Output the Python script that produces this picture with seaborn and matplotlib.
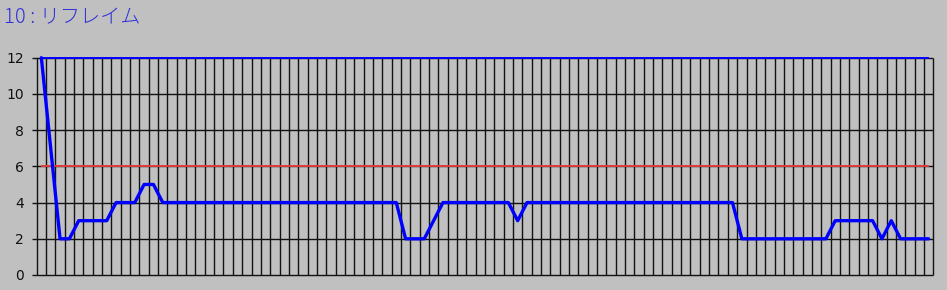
import numpy as np
import matplotlib
matplotlib.use("Agg")
import matplotlib.pyplot as plt
import seaborn as sns

title = "10 : リフレイム"
values = [12, 7, 2, 2, 3, 3, 3, 3, 4, 4, 4, 5, 5,
          4, 4, 4, 4, 4, 4, 4, 4, 4, 4, 4, 4, 4, 4, 4, 4, 4, 4, 4, 4, 4, 4, 4, 4, 4, 4,
          2, 2, 2, 3,
          4, 4, 4, 4, 4, 4, 4, 4,
          3,
          4, 4, 4, 4, 4, 4, 4, 4, 4, 4, 4, 4, 4, 4, 4, 4, 4, 4, 4, 4, 4, 4, 4,
          2, 2, 2, 2, 2, 2, 2, 2, 2, 2,
          3, 3, 3, 3, 3,
          2, 3, 2, 2, 2, 2]
upper_limit = 12
warn_level = 6
y_ticks = [0, 2, 4, 6, 8, 10, 12]

idx = np.arange(len(values))

sns.set_theme(style="white", rc={"axes.facecolor": "#C0C0C0",
                                 "figure.facecolor": "#C0C0C0"})
plt.rcParams["font.family"] = ["DejaVu Sans"]

W, H = 947, 290
fig = plt.figure(figsize=(W / 100, H / 100), dpi=100)
ax = fig.add_axes([32.3 / W, 15 / H, (933.3 - 32.3) / W, (275 - 57.7) / H])

ax.set_xlim(-0.97, len(values) - 0.5)
ax.set_ylim(0, 12)

# grid
ax.vlines(np.arange(len(values) + 1) - 0.5, 0, 12, color="#121212",
          linewidth=1.0, zorder=1, clip_on=False)
ax.hlines(y_ticks, -0.97, len(values) - 0.5, color="#121212",
          linewidth=1.0, zorder=1, clip_on=False)

# reference lines
ax.hlines(warn_level, idx[0], idx[-1], color="#E03C3C", linewidth=1.4, zorder=2)
ax.hlines(upper_limit, idx[0], idx[-1], color="#0000FF", linewidth=1.4,
          zorder=2, clip_on=False)

sns.lineplot(x=idx, y=values, ax=ax, color="#0000FF", linewidth=2.4,
             zorder=3, clip_on=False)

for s in ax.spines.values():
    s.set_visible(False)
ax.set_xticks([])
ax.set_yticks(y_ticks)
ax.set_yticklabels([str(t) for t in y_ticks], fontsize=10, color="#111111")
ax.tick_params(axis="y", length=0, pad=6)
ax.set_xlabel("")
ax.set_ylabel("")

fig.text(4 / W, 1 - 18 / H, title, color="#3030D8", fontsize=14.5,
         family=["Noto Sans CJK JP", "DejaVu Sans"], fontweight="light",
         va="center", ha="left")

fig.savefig("out.png", dpi=100, facecolor="#C0C0C0")
